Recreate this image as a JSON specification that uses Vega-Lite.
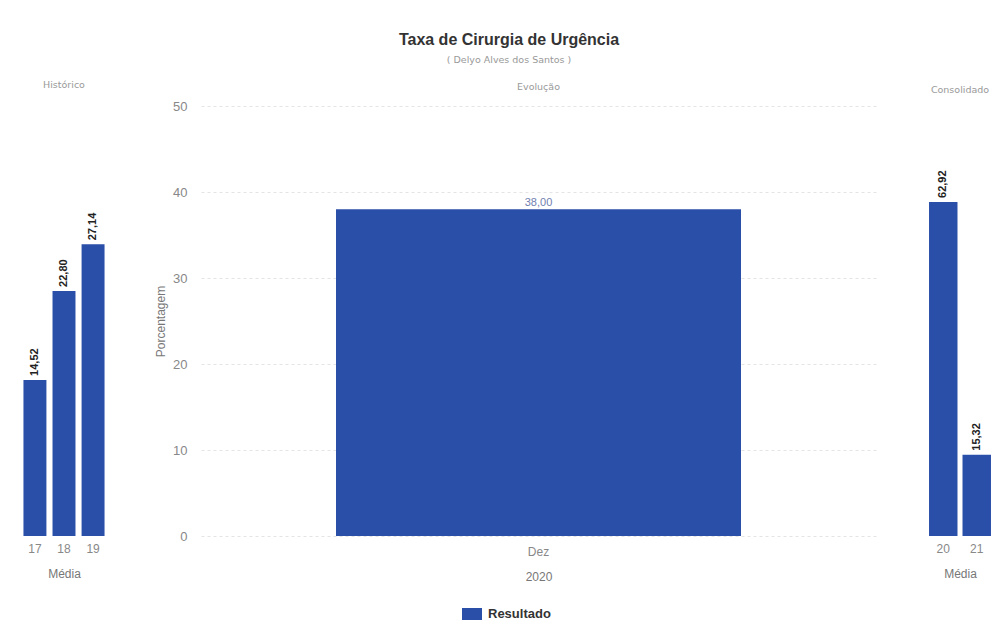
{
  "$schema": "https://vega.github.io/schema/vega-lite/v6.json",
  "padding": {"left": 22, "top": 32, "right": 2, "bottom": 5},
  "background": "white",
  "title": {
    "text": "Taxa de Cirurgia de Urgência",
    "subtitle": "( Delyo Alves dos Santos )",
    "anchor": "middle",
    "font": "Liberation Sans",
    "fontSize": 16,
    "fontWeight": "bold",
    "color": "#333333",
    "subtitleFont": "DejaVu Sans",
    "subtitleFontSize": 9.5,
    "subtitleColor": "#999999",
    "subtitlePadding": 7,
    "offset": 15
  },
  "config": {
    "font": "Liberation Sans",
    "locale": {"number": {"decimal": ",", "thousands": ".", "grouping": [3], "currency": ["R$", ""]}},
    "view": {"stroke": null},
    "axis": {
      "labelColor": "#888888",
      "titleColor": "#777777",
      "labelFont": "Liberation Sans",
      "titleFont": "Liberation Sans",
      "titleFontWeight": "normal"
    },
    "title": {"font": "DejaVu Sans"}
  },
  "spacing": 48,
  "hconcat": [
    {
      "width": 84,
      "height": 430,
      "title": {"text": "Histórico", "font": "DejaVu Sans", "fontSize": 9.5, "fontWeight": "normal", "color": "#999999", "offset": 17},
      "data": {"values": [
        {"ano": "17", "valor": 14.52},
        {"ano": "18", "valor": 22.80},
        {"ano": "19", "valor": 27.14}
      ]},
      "encoding": {
        "x": {"field": "ano", "type": "nominal", "scale": {"paddingInner": 0.21, "paddingOuter": 0.05},
          "axis": {"title": "Média", "labelAngle": 0, "ticks": false, "domain": false, "labelFontSize": 12, "titleFontSize": 12, "labelPadding": 7, "titlePadding": 14}},
        "y": {"field": "valor", "type": "quantitative", "scale": {"domain": [0, 40]}, "axis": null}
      },
      "layer": [
        {"mark": {"type": "bar", "color": "#2A4FA8"}},
        {"mark": {"type": "text", "angle": 270, "align": "left", "baseline": "middle", "dx": 4, "fontWeight": "bold", "fontSize": 11, "color": "#222222"},
          "encoding": {"text": {"field": "valor", "type": "quantitative", "format": ".2f"}}}
      ]
    },
    {
      "width": 675,
      "height": 430,
      "title": {"text": "Evolução", "font": "DejaVu Sans", "fontSize": 9.5, "fontWeight": "normal", "color": "#999999", "offset": 9},
      "data": {"values": [
        {"mes": "Dez", "valor": 38.00, "serie": "Resultado"}
      ]},
      "encoding": {
        "x": {"field": "mes", "type": "nominal", "scale": {"paddingInner": 0.25, "paddingOuter": 0.25},
          "axis": {"title": "2020", "labelAngle": 0, "ticks": false, "domain": false, "labelFontSize": 12, "titleFontSize": 12, "labelPadding": 10, "titlePadding": 14}},
        "y": {"field": "valor", "type": "quantitative", "scale": {"domain": [0, 50]},
          "axis": {"title": "Porcentagem", "values": [0, 10, 20, 30, 40, 50], "labelOverlap": false, "ticks": false, "domain": false, "labelFontSize": 13, "titleFontSize": 12, "labelPadding": 14, "titlePadding": 5, "gridColor": "#e4e4e4", "gridDash": [3, 3]}}
      },
      "layer": [
        {"mark": {"type": "bar"},
          "encoding": {"color": {"field": "serie", "type": "nominal", "scale": {"range": ["#2A4FA8"]},
            "legend": {"title": null, "orient": "none", "legendX": 440, "legendY": 498, "symbolType": "M-1,-0.6H1V0.6H-1Z", "symbolSize": 400, "labelFontSize": 13, "labelFontWeight": "bold", "labelColor": "#333333", "symbolStrokeWidth": 0, "labelOffset": 6}}}},
        {"mark": {"type": "text", "baseline": "bottom", "dy": -1, "fontSize": 11, "color": "#7080b0"},
          "encoding": {"text": {"field": "valor", "type": "quantitative", "format": ".2f"}}}
      ]
    },
    {
      "width": 72,
      "height": 430,
      "title": {"text": "Consolidado", "font": "DejaVu Sans", "fontSize": 9.5, "fontWeight": "normal", "color": "#999999", "offset": 12},
      "data": {"values": [
        {"ano": "20", "valor": 62.92},
        {"ano": "21", "valor": 15.32}
      ]},
      "encoding": {
        "x": {"field": "ano", "type": "nominal", "scale": {"paddingInner": 0.15, "paddingOuter": 0.15},
          "axis": {"title": "Média", "labelAngle": 0, "ticks": false, "domain": false, "labelFontSize": 12, "titleFontSize": 12, "labelPadding": 7, "titlePadding": 14}},
        "y": {"field": "valor", "type": "quantitative", "scale": {"domain": [0, 81]}, "axis": null}
      },
      "layer": [
        {"mark": {"type": "bar", "color": "#2A4FA8"}},
        {"mark": {"type": "text", "angle": 270, "align": "left", "baseline": "middle", "dx": 4, "fontWeight": "bold", "fontSize": 11, "color": "#222222"},
          "encoding": {"text": {"field": "valor", "type": "quantitative", "format": ".2f"}}}
      ]
    }
  ]
}
